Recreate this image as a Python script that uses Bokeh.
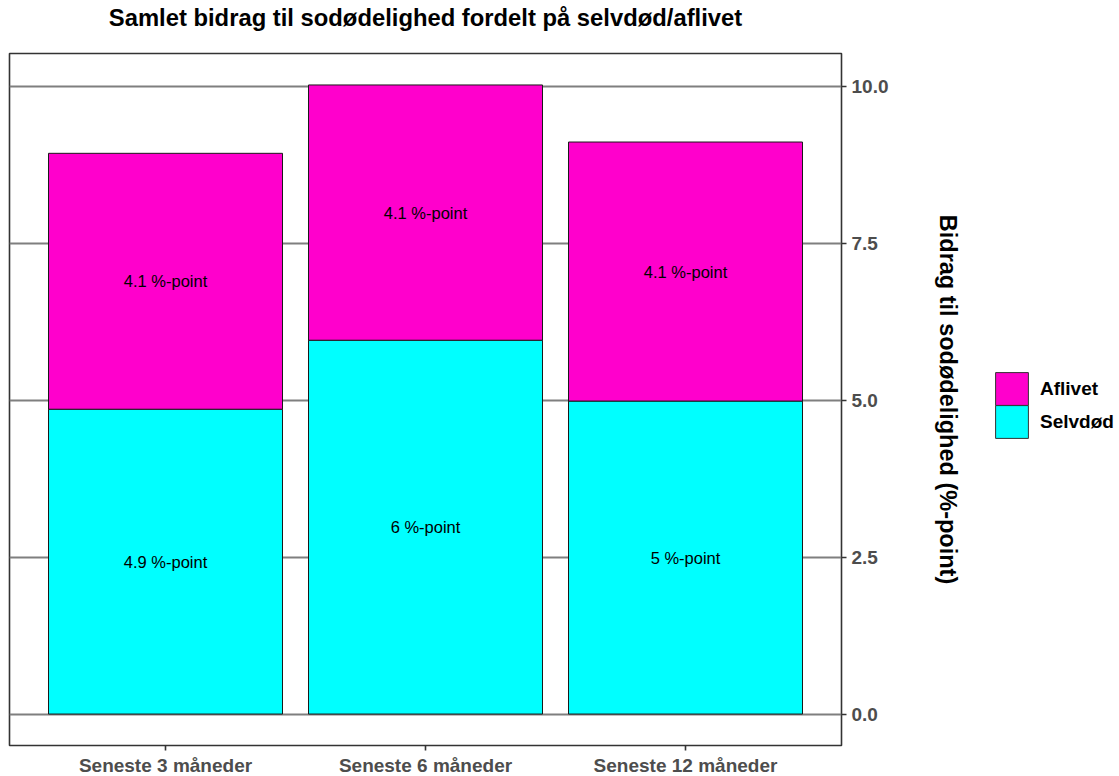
from bokeh.plotting import figure
from bokeh.layouts import row, column
from bokeh.models import (FactorRange, Range1d, LinearAxis, Legend, LegendItem, Label,
                          ColumnDataSource, FixedTicker, PrintfTickFormatter)
from bokeh.core.properties import value
from bokeh.embed import file_html
from bokeh.resources import INLINE

categories = ["Seneste 3 måneder", "Seneste 6 måneder", "Seneste 12 måneder"]
selvdod = [4.86, 5.96, 4.99]
aflivet = [4.08, 4.07, 4.13]
y_ticks = [0.0, 2.5, 5.0, 7.5, 10.0]
title_text = "Samlet bidrag til sodødelighed fordelt på selvdød/aflivet"
y_label = "Bidrag til sodødelighed (%-point)"
legend_labels = ["Aflivet", "Selvdød"]
colors = {"Aflivet": "#FF00CC", "Selvdød": "#00FFFF"}

FONT = "Liberation Sans"
totals = [s + a for s, a in zip(selvdod, aflivet)]
ymax = max(totals)
pad = 0.05 * ymax

def fmt(v):
    return f"{round(v, 1):g} %-point"

src = ColumnDataSource(dict(
    cat=categories,
    s_top=selvdod,
    a_bottom=selvdod,
    a_top=totals,
    s_mid=[s / 2 for s in selvdod],
    a_mid=[s + a / 2 for s, a in zip(selvdod, aflivet)],
    s_lab=[fmt(v) for v in selvdod],
    a_lab=[fmt(v) for v in aflivet],
))

# ---- title strip ----
tf = figure(width=1109, height=36, x_range=Range1d(0, 1), y_range=Range1d(0, 1),
            output_backend="svg", toolbar_location=None,
            x_axis_location=None, y_axis_location=None,
            min_border=0, outline_line_color=None)
tf.xgrid.grid_line_color = None
tf.ygrid.grid_line_color = None
tf.add_layout(Label(x=425, y=19, x_units="screen", y_units="screen", text=title_text,
                    text_align="center", text_baseline="middle",
                    text_font=FONT, text_font_size="23.8px", text_font_style="bold",
                    text_color="black"))

# ---- main plot ----
p = figure(frame_width=832, frame_height=692,
           x_range=FactorRange(factors=categories, range_padding=0.2 / 3),
           y_range=Range1d(-pad, ymax + pad),
           output_backend="svg", toolbar_location=None,
           y_axis_location=None,
           min_border_left=9, min_border_right=118, min_border_top=17, min_border_bottom=31)

p.outline_line_color = "#333333"
p.outline_line_width = 1.6
p.background_fill_color = "white"
p.border_fill_color = "white"

p.xgrid.grid_line_color = None

yaxis = LinearAxis(ticker=FixedTicker(ticks=y_ticks), axis_label=y_label,
                   formatter=PrintfTickFormatter(format="%.1f"))
p.add_layout(yaxis, "right")
p.ygrid.ticker = FixedTicker(ticks=y_ticks)
p.ygrid.grid_line_color = "#7f7f7f"
p.ygrid.grid_line_width = 1.8
p.ygrid.level = "underlay"

for ax in [p.xaxis[0], yaxis]:
    ax.axis_line_color = None
    ax.major_tick_line_color = "#333333"
    ax.major_tick_line_width = 1.6
    ax.major_tick_out = 5
    ax.major_tick_in = 0
    ax.minor_tick_line_color = None
    ax.major_label_text_font = FONT
    ax.major_label_text_font_style = "bold"
    ax.major_label_text_font_size = "19px"
    ax.major_label_text_color = "#4d4d4d"
    ax.major_label_standoff = 5

p.xaxis[0].major_label_standoff = 4

yaxis.axis_label_text_font = FONT
yaxis.axis_label_text_font_style = "bold"
yaxis.axis_label_text_font_size = "23.5px"
yaxis.axis_label_text_color = "black"
yaxis.axis_label_standoff = 44

p.vbar(x="cat", bottom=0, top="s_top", width=0.9, source=src,
       fill_color=colors["Selvdød"], line_color="#1a1a1a", line_width=1)
p.vbar(x="cat", bottom="a_bottom", top="a_top", width=0.9, source=src,
       fill_color=colors["Aflivet"], line_color="#1a1a1a", line_width=1)

for ycol, tcol in [("s_mid", "s_lab"), ("a_mid", "a_lab")]:
    p.text(x="cat", y=ycol, text=tcol, source=src, text_align="center", text_baseline="middle",
           text_font=value(FONT), text_font_size="16.5px", text_color="black")

# ---- legend strip ----
lg = figure(width=150, height=740, x_range=Range1d(0, 1), y_range=Range1d(0, 1),
            output_backend="svg", toolbar_location=None,
            x_axis_location=None, y_axis_location=None,
            min_border=0, outline_line_color=None)
lg.xgrid.grid_line_color = None
lg.ygrid.grid_line_color = None

legend_y = {"Aflivet": 334, "Selvdød": 301}
for lab in legend_labels:
    # key glyph only (placed outside the visible range)
    r = lg.vbar(x=[5], bottom=[5], top=[6], width=0.5, fill_color=colors[lab],
                line_color="#333333", line_width=1)
    legend = Legend(items=[LegendItem(label=lab, renderers=[r])], location=(27, legend_y[lab]))
    legend.glyph_width = 41
    legend.glyph_height = 41
    legend.label_height = 41
    legend.spacing = 0
    legend.padding = 0
    legend.margin = 0
    legend.label_standoff = 8
    legend.border_line_color = None
    legend.background_fill_alpha = 0
    legend.label_text_font = FONT
    legend.label_text_font_style = "bold"
    legend.label_text_font_size = "19px"
    legend.label_text_color = "black"
    lg.add_layout(legend, "center")

open("out.html", "w").write(file_html(column(tf, row(p, lg)), INLINE))
